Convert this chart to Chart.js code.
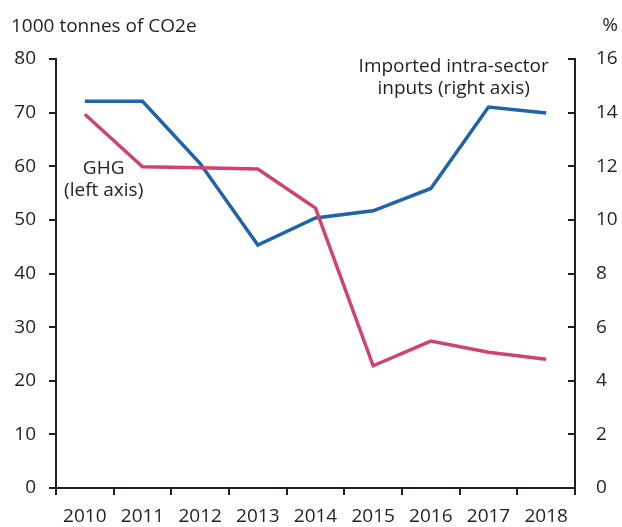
<!DOCTYPE html>
<html lang="en">
<head>
<meta charset="UTF-8">
<title>GHG and imported intra-sector inputs</title>
<script src="https://cdn.jsdelivr.net/npm/chart.js"></script>
<style>
  html, body { margin: 0; padding: 0; background: #fff; }
  .box { position: relative; width: 622px; height: 527px; }
</style>
</head>
<body>
<div class="box"><canvas id="chart"></canvas></div>
<script>
var years = ['2010', '2011', '2012', '2013', '2014', '2015', '2016', '2017', '2018'];
// GHG, 1000 tonnes of CO2e (left axis)
var ghg = [69.7, 59.9, 59.7, 59.5, 52.2, 22.8, 27.4, 25.3, 24.0];
// imported intra-sector inputs, % (right axis)
var imported = [14.42, 14.42, 12.1, 9.06, 10.07, 10.34, 11.17, 14.21, 13.99];
var leftTicks = [0, 10, 20, 30, 40, 50, 60, 70, 80];
var rightTicks = [0, 2, 4, 6, 8, 10, 12, 14, 16];

var FONT = '"Open Sans", "Noto Sans", sans-serif';
var SIZE = 19;
var INK = '#231f20';

// texts around the plot and tick marks pointing inward on the right axis
var extras = {
    id: 'extras',
    afterDraw: function (chart) {
        var ctx = chart.ctx;
        var y1 = chart.scales.y1;
        var y = chart.scales.y;
        var x = chart.scales.x;
        ctx.save();
        ctx.strokeStyle = INK;
        ctx.lineWidth = 2;
        rightTicks.forEach(function (v) {
            var py = Math.round(y1.getPixelForValue(v));
            ctx.beginPath();
            ctx.moveTo(y1.left - 7, py);
            ctx.lineTo(y1.left, py);
            ctx.stroke();
        });

        ctx.fillStyle = INK;
        ctx.font = SIZE + 'px ' + FONT;
        ctx.textBaseline = 'middle';
        ctx.textAlign = 'left';
        ctx.fillText('1000 tonnes of CO2e', 11, 27);
        ctx.textAlign = 'center';
        ctx.fillText('%', 610, 26);

        // series labels
        var gx = (x.getPixelForValue(0) + x.getPixelForValue(1)) / 2 - 10;
        ctx.fillText('GHG', gx, y.getPixelForValue(59.5));
        ctx.fillText('(left axis)', gx, y.getPixelForValue(55.4));
        var ix = (x.getPixelForValue(6) + x.getPixelForValue(7)) / 2 - 6;
        ctx.fillText('Imported intra-sector', ix, y1.getPixelForValue(15.7));
        ctx.fillText('inputs (right axis)', ix, y1.getPixelForValue(14.9));
        ctx.restore();
    }
};

new Chart(document.getElementById('chart'), {
    type: 'line',
    data: {
        labels: years,
        datasets: [{
            label: 'GHG (left axis)',
            data: ghg,
            yAxisID: 'y',
            borderColor: '#d0426f',
            borderWidth: 3.5,
            pointRadius: 0,
            tension: 0
        }, {
            label: 'Imported intra-sector inputs (right axis)',
            data: imported,
            yAxisID: 'y1',
            borderColor: '#1f63a8',
            borderWidth: 3.5,
            pointRadius: 0,
            tension: 0
        }]
    },
    options: {
        responsive: true,
        maintainAspectRatio: false,
        animation: false,
        layout: { padding: { top: 59, left: 0, right: 0, bottom: 0 } },
        plugins: {
            legend: { display: false },
            tooltip: { enabled: false }
        },
        scales: {
            x: {
                offset: true,
                grid: { offset: true, drawOnChartArea: false, color: INK, lineWidth: 2, tickLength: 7 },
                border: { color: INK, width: 2 },
                ticks: { color: INK, font: { family: FONT, size: SIZE }, padding: 10, maxRotation: 0 },
                afterFit: function (s) { s.height = 39; }
            },
            y: {
                position: 'left',
                min: 0,
                max: 80,
                afterBuildTicks: function (s) { s.ticks = leftTicks.map(function (v) { return { value: v }; }); },
                grid: { drawOnChartArea: false, color: INK, lineWidth: 2, tickLength: 7 },
                border: { color: INK, width: 2 },
                ticks: { color: INK, font: { family: FONT, size: SIZE }, padding: 13 },
                afterFit: function (s) { s.width = 56; }
            },
            y1: {
                position: 'right',
                min: 0,
                max: 16,
                afterBuildTicks: function (s) { s.ticks = rightTicks.map(function (v) { return { value: v }; }); },
                grid: { drawOnChartArea: false, drawTicks: false },
                border: { color: INK, width: 2 },
                ticks: { color: INK, font: { family: FONT, size: SIZE }, padding: 21 },
                afterFit: function (s) { s.width = 47; }
            }
        }
    },
    plugins: [extras]
});
</script>
</body>
</html>
